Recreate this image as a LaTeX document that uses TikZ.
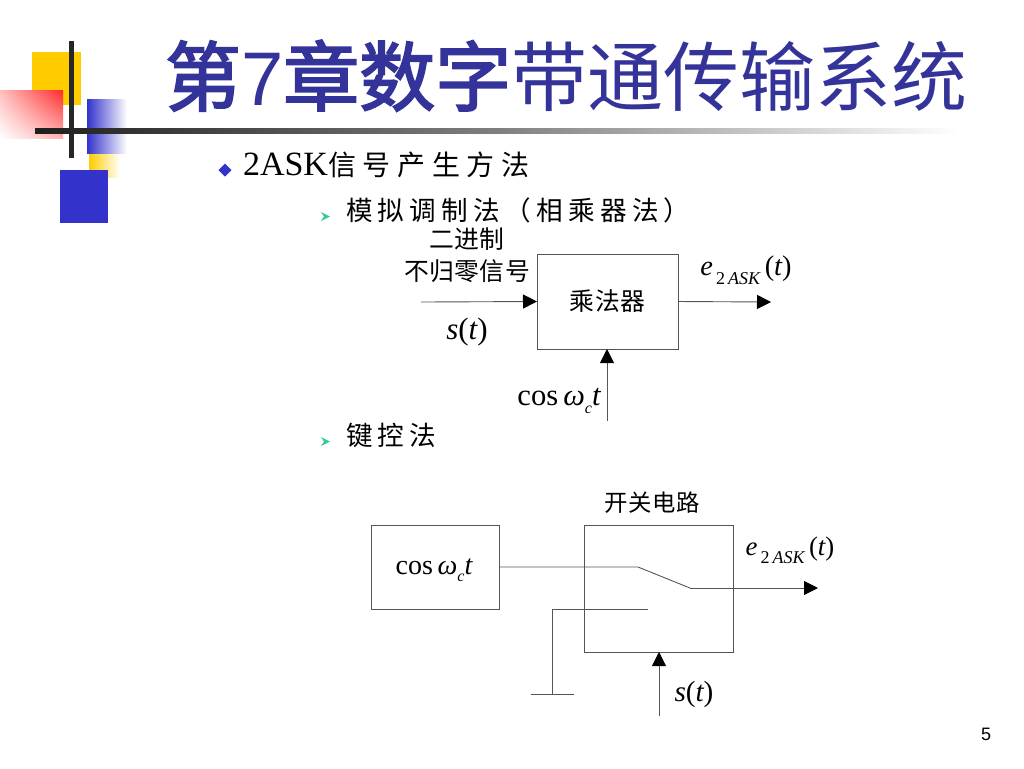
\documentclass[tikz,border=0pt]{standalone}
\usepackage{fontspec}
\usetikzlibrary{arrows.meta,shadings}
\setmainfont{Liberation Serif}
\newfontfamily\cjk{Noto Sans CJK SC}
\newfontfamily\cjkbold[FakeBold=2.5]{Noto Sans CJK SC}
\newfontfamily\cjkA[LetterSpace=24]{Noto Sans CJK SC}
\newfontfamily\cjkB[LetterSpace=19.5]{Noto Sans CJK SC}
\newfontfamily\cjkC[LetterSpace=2]{Noto Sans CJK SC}
\newfontfamily\sanslat{Liberation Sans}
\definecolor{titleblue}{HTML}{333399}
\definecolor{decoblue}{HTML}{3333CC}
\definecolor{decoyellow}{HTML}{FFCC00}
\definecolor{decored}{HTML}{FF2A2A}
\definecolor{linegrey}{HTML}{555555}
\definecolor{arrowteal}{HTML}{33CC99}
\newcommand{\fs}[1]{\fontsize{#1}{#1}\selectfont}
\newcommand{\eask}{{\itshape e}\raisebox{-0.3em}{\fontsize{9}{9}\selectfont\,2\,\itshape ASK}\,{\upshape(}{\itshape t}{\upshape)}}
\newcommand{\coswt}{cos\,{\itshape ω}\raisebox{-0.25em}{\fontsize{8}{8}\selectfont\itshape c}{\itshape t}}
\newcommand{\stt}{{\itshape s}{\upshape(}{\itshape t}{\upshape)}}
\tikzset{
  txt/.style={inner sep=0pt,outer sep=0pt,text=black},
  blockbox/.style={draw=linegrey,line width=0.45pt,inner sep=0pt,outer sep=0pt},
  wire/.style={draw=linegrey,line width=0.45pt},
  flow/.style={wire,-{Triangle[length=7pt,width=7pt,fill=black,color=black]}},
  mathlbl/.style={txt,font=\fs{14}},
  cnlbl/.style={txt,font=\cjkC\fs{12.4}\color{black!80}},
}
\begin{document}
\begin{tikzpicture}[x=0.5pt,y=-0.5pt]
\useasboundingbox (0,0) rectangle (1024,768);
% decoration
\fill[decoyellow] (32,52) rectangle (81,105);
\shade[left color=decoyellow,right color=white] (89,153) rectangle (120,177);
\shade[left color=decoblue,right color=white] (87,99) rectangle (127,153);
\shade[lower left=white,upper left=red!25,upper right=decored,lower right=red!30] (0,90) rectangle (63,138);
\fill[decoblue] (60,170) rectangle (108,223);
\fill[black!85] (69,41) rectangle (73.5,158);
\shade[left color=black!88,right color=white,middle color=black!50] (35,128) rectangle (960,133);
% title
\node[txt,anchor=base west,text=titleblue] (title) at (165,105)
  {\fs{38}{\cjkbold 第}{\sanslat 7}{\cjkbold 章数字}\cjk 带通传输系统};
% bullets
\node[fill=decoblue,minimum size=0pt,inner sep=0pt,shape=rectangle,rotate=45,minimum width=4.6pt,minimum height=4.6pt] (bullet1) at (225,170) {};
\fill[arrowteal] (321,212) -- (330,216.5) -- (321,221) -- (324,216.5) -- cycle;
\fill[arrowteal] (321,437) -- (330,441.5) -- (321,446) -- (324,441.5) -- cycle;
\node[txt,anchor=base west] (head) at (243,175) {\fs{17}2ASK{\cjkA\fs{14}信号产生方法}};
\node[txt,anchor=base west] (sub1) at (346,220) {\cjkB\fs{13.3}模拟调制法（相乘器法）};
\node[txt,anchor=base west] (sub2) at (346,445) {\cjkB\fs{13.3}键控法};
% multiplier diagram
\node[blockbox,minimum width=70.5pt,minimum height=47.5pt,font=\cjkC\fs{12.4}] (mul) at (607.5,301.5) {乘法器};
\coordinate (inL) at (421,302);
\coordinate (outR) at (771,302);
\coordinate (carrier) at (607,421);
\draw[flow] (inL) -- (mul.west);
\draw[flow] (mul.east) -- (outR);
\draw[flow] (carrier) -- (mul.south -| carrier);
\node[cnlbl] (lb1) at (467,239) {二进制};
\node[cnlbl] (lb2) at (467,271) {不归零信号};
\node[mathlbl,font=\fs{15.5}] (st1) at (467,332) {\stt};
\node[mathlbl,font=\fs{14.2}] (e1) at (746,270) {\eask};
\node[mathlbl,font=\fs{15.3}] (c1) at (559,401) {\coswt};
% keying diagram
\node[blockbox,minimum width=64pt,minimum height=42pt] (osc) at (435,567) {};
\node[mathlbl] (c2) at (434,570) {\coswt};
\node[blockbox,minimum width=74.5pt,minimum height=63.5pt] (sw) at (658.5,588.5) {};
\coordinate (a) at (638,567);
\coordinate (b) at (690,588);
\coordinate (outK) at (818,588);
\coordinate (c) at (648,609);
\coordinate (d) at (552,609);
\coordinate (g) at (552,694);
\coordinate (gl) at (531,694);
\coordinate (gr) at (574,694);
\coordinate (sIn) at (659,716);
\draw[wire] (osc.east |- a) -- (a) -- (b);
\draw[flow] (b) -- (outK);
\draw[wire] (c) -- (d) -- (g);
\draw[wire] (gl) -- (gr);
\draw[flow] (sIn) -- (sw.south -| sIn);
\node[cnlbl,font=\cjkC\fs{11.7}\color{black!80}] (lb3) at (652,503) {开关电路};
\node[mathlbl,font=\fs{13.4}] (e2) at (790,550) {\eask};
\node[mathlbl,font=\fs{14.6}] (st2) at (694,694) {\stt};
\node[txt,anchor=center,font=\sanslat\fs{9}] (pg) at (986,734) {5};
\end{tikzpicture}
\end{document}
